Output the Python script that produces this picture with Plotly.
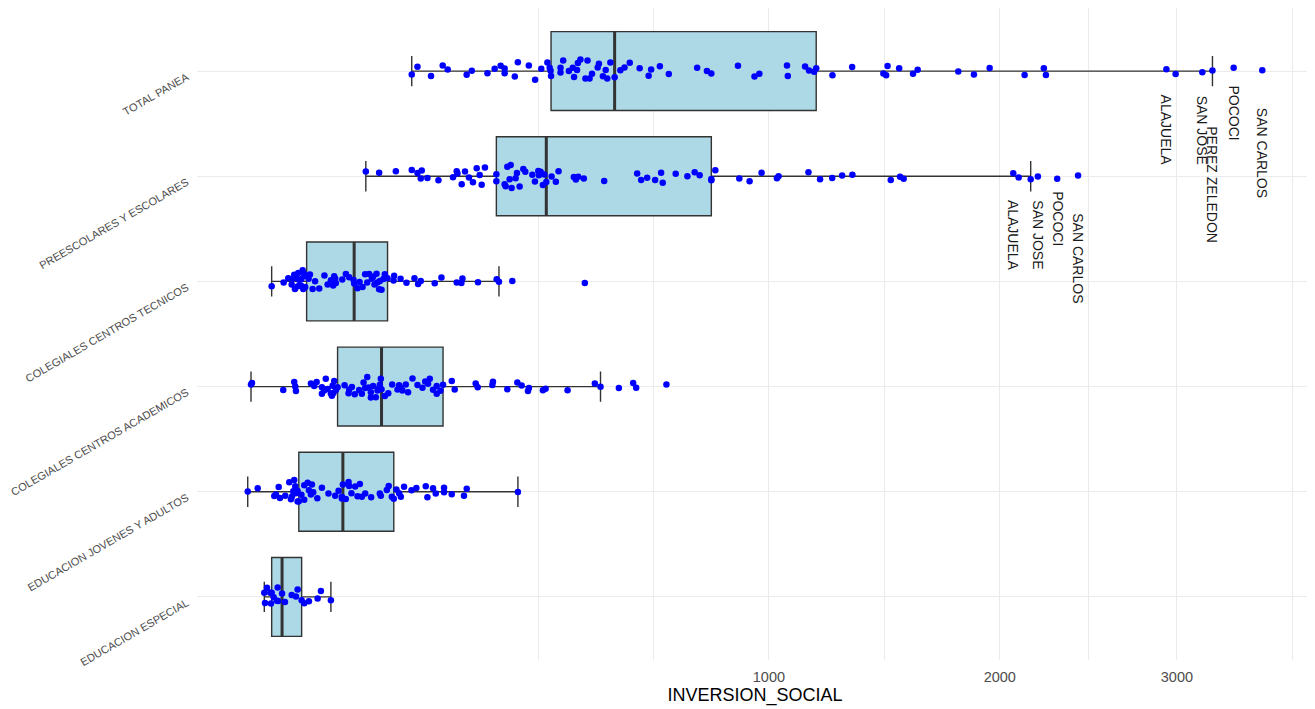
import numpy as np
import plotly.graph_objects as go

categories = ["TOTAL PANEA", "PREESCOLARES Y ESCOLARES", "COLEGIALES CENTROS TECNICOS",
              "COLEGIALES CENTROS ACADEMICOS", "EDUCACION JOVENES Y ADULTOS", "EDUCACION ESPECIAL"]

total_panea = [129, 136.5, 155, 172, 179.5, 209.5, 218, 245, 258, 269,
               276.5, 276.5, 296, 302, 324, 337, 350, 363, 368, 370,
               371, 392, 392, 398, 411, 420, 423, 430, 432, 438,
               450, 455, 460, 466, 480, 483, 493, 500, 504, 512,
               523, 538, 549, 563, 590, 615, 622, 647, 673, 759,
               790, 804, 892, 949, 966, 1066, 1069, 1134, 1149, 1169,
               1177, 1241, 1321, 1453, 1465, 1471, 1522, 1584, 1605, 1795,
               1871, 1949, 2128, 2230, 2241, 2935, 2992, 3160, 3225, 3363, 3554]

preescolares = [76.6, 90.4, 109.3, 129, 136.5, 140.9, 142.2, 150, 165.7, 187.7,
                193.5, 194.6, 201.4, 206.8, 213.3, 220, 226.3, 231.4, 234.9, 240.6,
                261.1, 261.1, 276.5, 278.4, 281.6, 286, 288, 289.9, 297.6, 300.2,
                305.5, 312.9, 316.9, 331.2, 336.6, 343.7, 344.9, 348.5, 353.4, 356.4,
                360.7, 372.2, 381.6, 387.6, 422.5, 427.2, 432.8, 446.1, 496.3, 583.1,
                594.1, 610.8, 633.4, 650.6, 655.3, 693.5, 728.9, 751.4, 766.9, 804.1,
                804.1, 817, 896.6, 931.9, 973.9, 1029, 1035, 1147, 1192, 1240,
                1280, 1322, 1485, 1526, 1542, 2069, 2097, 2160, 2198, 2302, 2417]

tecnicos = [11.63, 16.73, 18.93, 20.65, 21.48, 22.0, 22.38, 23.0, 24.0, 24.19,
            24.75, 25.71, 26.0, 26.7, 27.05, 27.5, 28.24, 29.09, 30.33, 31.15,
            32.87, 34.5, 37.31, 41.0, 43.35, 45.84, 47.62, 48.41, 49.2, 49.76,
            55.0, 58.07, 60.95, 64.91, 65.46, 68.61, 70.5, 73.39, 75.93, 78.0,
            80.0, 82.69, 84.04, 85.49, 87.61, 88.5, 90.38, 91.14, 93.0, 95.0,
            96.63, 99.7, 106.6, 107.3, 115.0, 122.3, 132.5, 137.3, 140.9, 160.3,
            170.1, 193.5, 200.9, 202.6, 228.5, 261.7, 265.9, 291.2, 448.5]

academicos = [5.01, 5.27, 16.55, 22.01, 22.54, 22.92, 31.78, 33.92, 35.52, 39.2,
              39.2, 40.85, 42.0, 43.35, 45.84, 46.61, 47.15, 47.8, 48.41, 49.76,
              51.12, 56.95, 60.42, 60.95, 63.37, 66.0, 70.12, 72.71, 74.36, 75.93,
              78.0, 79.33, 81.67, 81.67, 84.04, 86.86, 88.66, 89.74, 91.14, 92.22,
              93.0, 96.63, 100.5, 105.0, 111.3, 113.2, 115.3, 117.3, 121.4, 124.3,
              130.0, 136.5, 143.2, 147.0, 150.9, 153.3, 157.9, 163.2, 163.2, 168.6,
              172.5, 185.7, 190.3, 224.6, 228.0, 253.8, 254.9, 281.6, 301.0, 309.5,
              322.2, 324.2, 353.4, 359.2, 408.0, 472.9, 487.0, 534.0, 572.2, 580.4, 666.0]

jovenes = [4.21, 6.85, 12.66, 13.35, 14.5, 15.06, 17.48, 19.43, 20.29, 20.8,
           21.48, 22.01, 22.54, 22.92, 23.85, 23.85, 24.5, 26.0, 27.65, 27.65,
           29.71, 30.5, 31.78, 32.42, 33.27, 36.0, 39.2, 44.0, 49.2, 51.94,
           54.67, 54.67, 55.5, 58.0, 60.42, 60.95, 63.0, 66.38, 68.61, 70.79,
           72.71, 76.0, 82.0, 91.14, 92.22, 98.87, 101.0, 104.6, 106.9, 110.0,
           113.2, 115.3, 119.3, 128.7, 135.0, 147.7, 150.0, 157.9, 161.8, 174.0,
           174.0, 185.7, 205.1, 209.6, 302.1]

especial = [8.95, 9.19, 9.89, 11.1, 11.36, 11.63, 12.42, 13.77, 14.07, 14.32,
            16.0, 17.34, 20.65, 22.92, 23.85, 26.12, 27.65, 30.5, 36.2, 38.49, 45.84]

x_ticks = [1000, 2000, 3000]
x_tick_labels = ["1000", "2000", "3000"]

total_label_names = ["ALAJUELA", "SAN JOSE", "PEREZ ZELEDON", "POCOCI", "SAN CARLOS"]
total_label_values = [2935, 3160, 3225, 3363, 3554]
pre_label_names = ["ALAJUELA", "SAN JOSE", "POCOCI", "SAN CARLOS"]
pre_label_values = [2069, 2198, 2302, 2417]

# ---- layout / style (not data) ----
label_offset = {"ALAJUELA": 0.56, "SAN JOSE": 0.56, "PEREZ ZELEDON": 1.08,
                "POCOCI": 0.40, "SAN CARLOS": 0.78}
FONT = "Liberation Sans, Arial, sans-serif"
BOX_W = 0.75

series = [total_panea, preescolares, tecnicos, academicos, jovenes, especial]

xs, ys = [], []
for cat, vals in zip(categories, series):
    xs.extend(np.sqrt(np.array(vals, dtype=float)).tolist())
    ys.extend([cat] * len(vals))

medians = [float(np.median(np.sqrt(np.array(v, dtype=float)))) for v in series]

s_all = np.array(xs)
lo, hi = s_all.min(), s_all.max()
pad = 0.05 * (hi - lo)
xrange = [lo - pad, hi + pad]

# minor gridlines the ggplot way (midpoints in transformed space)
maj = np.sqrt(np.array(x_ticks, dtype=float))
bd = maj[1] - maj[0]
b = list(maj)
if xrange[0] < b[0]:
    b = [b[0] - bd] + b
if xrange[1] > b[-1]:
    b = b + [b[-1] + bd]
minor_vals = []
for a, c in zip(b[:-1], b[1:]):
    minor_vals.extend([a, (a + c) / 2])
minor_vals.append(b[-1])
minor_vals = [m for m in minor_vals if not np.any(np.isclose(m, maj))]

fig = go.Figure()

# box + whiskers with caps
fig.add_trace(go.Box(
    x=xs, y=ys, orientation="h", boxpoints="outliers",
    marker=dict(color="rgba(0,0,0,0)", size=1),
    fillcolor="#ADD8E6", line=dict(color="#333333", width=1.4),
    whiskerwidth=0.385, width=BOX_W, quartilemethod="inclusive",
    hoverinfo="skip", showlegend=False))

# thicker median line
fig.add_trace(go.Box(
    y=categories, q1=medians, median=medians, q3=medians,
    lowerfence=medians, upperfence=medians, orientation="h",
    boxpoints=False, fillcolor="rgba(0,0,0,0)",
    line=dict(color="#333333", width=3), whiskerwidth=0, width=BOX_W,
    hoverinfo="skip", showlegend=False))

# jittered points
fig.add_trace(go.Box(
    x=xs, y=ys, orientation="h", boxpoints="all", jitter=0.33, pointpos=0,
    marker=dict(color="#0000FF", size=6.5),
    fillcolor="rgba(0,0,0,0)", line=dict(color="rgba(0,0,0,0)", width=0),
    whiskerwidth=0, width=BOX_W, quartilemethod="inclusive",
    hoverinfo="skip", showlegend=False))

annotations = []
for cat, names, vals in [(categories[0], total_label_names, total_label_values),
                         (categories[1], pre_label_names, pre_label_values)]:
    idx = categories.index(cat)
    for n, v in zip(names, vals):
        annotations.append(dict(
            x=float(np.sqrt(v)), y=idx + label_offset[n], xref="x", yref="y",
            text=n, showarrow=False, textangle=90,
            xanchor="center", yanchor="middle",
            font=dict(family=FONT, size=14, color="#1a1a1a")))

n = len(categories)
fig.update_layout(
    width=1315, height=709,
    margin=dict(l=189, r=10, t=0, b=57),
    paper_bgcolor="white", plot_bgcolor="white",
    boxmode="overlay", showlegend=False,
    font=dict(family=FONT),
    annotations=annotations,
    xaxis=dict(
        range=xrange, tickmode="array", tickvals=maj.tolist(), ticktext=x_tick_labels,
        showgrid=True, gridcolor="#EBEBEB", gridwidth=1.1, zeroline=False,
        showline=False, ticks="outside", ticklen=4, tickcolor="rgba(0,0,0,0)",
        tickfont=dict(size=14.5, color="#4D4D4D"),
        minor=dict(tickmode="array", tickvals=minor_vals, showgrid=True,
                   gridcolor="#EBEBEB", gridwidth=0.8, ticks=""),
        title=dict(text="INVERSION_SOCIAL", font=dict(size=18, color="black"),
                   standoff=3),
        automargin=False),
    yaxis=dict(
        type="category", categoryorder="array", categoryarray=categories,
        range=[n - 1 + 0.6, -0.6], showgrid=True, gridcolor="#EBEBEB",
        gridwidth=1.1, zeroline=False, showline=False,
        ticks="outside", ticklen=7, tickcolor="rgba(0,0,0,0)",
        ticklabelshift=-5,
        tickangle=-30, tickfont=dict(size=11, color="#4D4D4D"),
        automargin=False),
)

fig.write_html("out.html")
